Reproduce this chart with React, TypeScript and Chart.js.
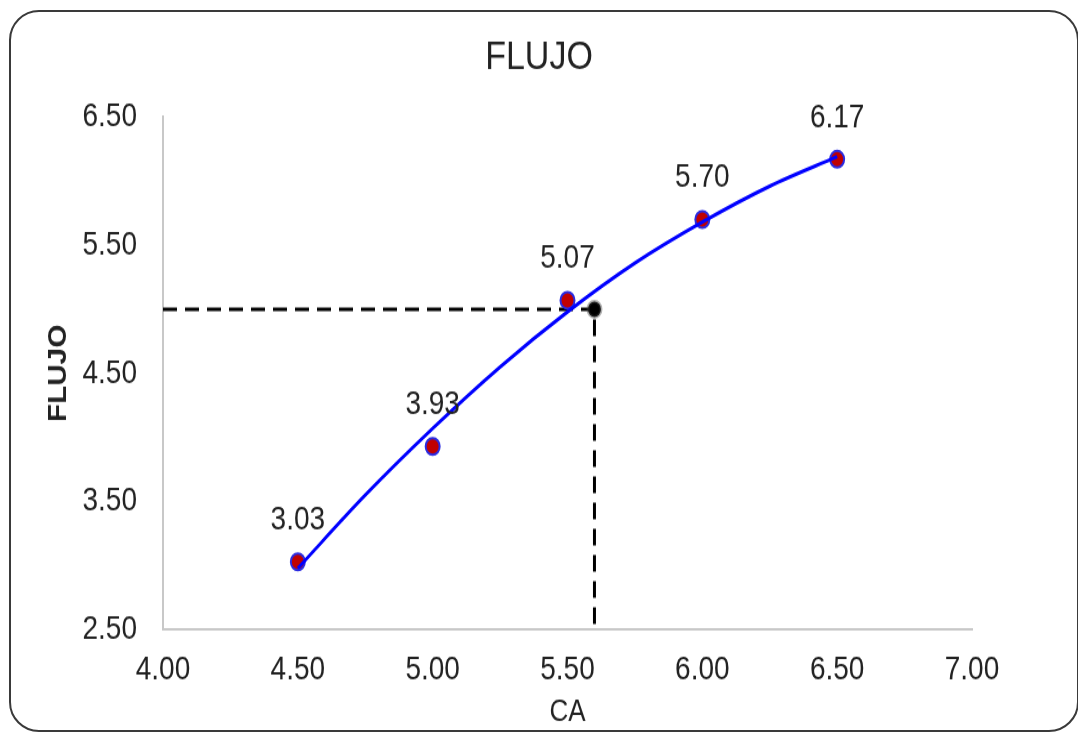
import React, { useEffect, useRef } from "react";
import { Chart, registerables } from "chart.js";

Chart.register(...registerables);

// Measured points
const caValues = [4.5, 5.0, 5.5, 6.0, 6.5];
const flujoValues = [3.03, 3.93, 5.07, 5.7, 6.17];
// Trend line
const trendX = [4.5, 4.75, 5.0, 5.25, 5.5, 5.75, 6.0, 6.25, 6.5];
const trendY = [2.98, 3.55, 4.07, 4.55, 4.98, 5.36, 5.68, 5.96, 6.19];
// Read-off point and guide lines
const readX = [5.6];
const readY = [5.0];
const guideX = [4.0, 5.6, 5.6];
const guideY = [5.0, 5.0, 2.5];

const xTicks = [4.0, 4.5, 5.0, 5.5, 6.0, 6.5, 7.0];
const yTicks = [2.5, 3.5, 4.5, 5.5, 6.5];

const SANS = "'Liberation Sans', Arial, sans-serif";

// the drawing is rendered at this height and shown stretched to 734px
const RENDER_H = 617;

const labelPlugin = {
  id: "pointLabels",
  afterDatasetsDraw(chart: any) {
    const meta = chart.getDatasetMeta(1);
    const ctx = chart.ctx;
    ctx.save();
    ctx.font = `28px ${SANS}`;
    ctx.fillStyle = "#222";
    ctx.textAlign = "center";
    ctx.textBaseline = "middle";
    meta.data.forEach((el: any, i: number) => {
      ctx.fillText(flujoValues[i].toFixed(2), el.x, el.y - 35);
    });
    ctx.restore();
  },
};

export default function App() {
  const ref = useRef<HTMLCanvasElement>(null);
  useEffect(() => {
    if (!ref.current) return;
    const chart = new Chart(ref.current, {
      type: "scatter",
      data: {
        datasets: [
          {
            type: "line",
            data: trendX.map((x, i) => ({ x, y: trendY[i] })),
            borderColor: "#0000ff",
            borderWidth: 3,
            pointRadius: 0,
            tension: 0.4,
            cubicInterpolationMode: "monotone",
            fill: false,
          } as any,
          {
            data: caValues.map((x, i) => ({ x, y: flujoValues[i] })),
            backgroundColor: "#c00000",
            borderColor: "#2a2ae0",
            borderWidth: 2,
            pointRadius: 7,
          },
          {
            data: readX.map((x, i) => ({ x, y: readY[i] })),
            backgroundColor: "#000",
            borderColor: "rgba(60,60,60,0.4)",
            borderWidth: 3,
            pointRadius: 6.5,
          },
          {
            type: "line",
            data: guideX.map((x, i) => ({ x, y: guideY[i] })),
            borderColor: "#000",
            borderWidth: 3,
            borderDash: [14, 8],
            pointRadius: 0,
            tension: 0,
            fill: false,
          } as any,
        ],
      },
      options: {
        animation: false,
        responsive: false,
        devicePixelRatio: 1,
        layout: { padding: 0 },
        plugins: {
          legend: { display: false },
          tooltip: { enabled: false },
          title: {
            display: true,
            text: "FLUJO",
            color: "#222",
            font: { family: SANS, size: 34, weight: "normal" as any },
            padding: { top: 28, bottom: 29.5 },
          },
        },
        scales: {
          x: {
            type: "linear",
            min: 4,
            max: 7,
            afterBuildTicks: (s: any) => {
              s.ticks = xTicks.map((v) => ({ value: v }));
            },
            afterFit: (s: any) => {
              s.height = 87.6;
            },
            grid: { display: false, drawTicks: false },
            border: { display: true, color: "#c8c8c8", width: 2 },
            ticks: {
              color: "#222",
              padding: 17,
              font: { family: SANS, size: 28 },
              callback: (v: any) => Number(v).toFixed(2),
              maxRotation: 0,
            },
            title: {
              display: true,
              text: "CA",
              color: "#222",
              font: { family: SANS, size: 26 },
              padding: { top: 0, bottom: 3 },
            },
          },
          y: {
            type: "linear",
            position: "left",
            min: 2.5,
            max: 6.5,
            afterBuildTicks: (s: any) => {
              s.ticks = yTicks.map((v) => ({ value: v }));
            },
            afterFit: (s: any) => {
              s.width = 163;
            },
            grid: { display: false, drawTicks: false },
            border: { display: true, color: "#c8c8c8", width: 2 },
            ticks: {
              color: "#222",
              padding: 26,
              font: { family: SANS, size: 28 },
              callback: (v: any) => Number(v).toFixed(2),
            },
            title: {
              display: true,
              text: "FLUJO",
              color: "#222",
              font: { family: SANS, size: 25, weight: "bold" as any },
              padding: { top: 44, bottom: 0 },
            },
          },
          yRight: {
            type: "linear",
            position: "right",
            min: 2.5,
            max: 6.5,
            afterFit: (s: any) => {
              s.width = 106;
            },
            grid: { display: false, drawTicks: false },
            border: { display: false },
            ticks: { display: false },
          },
        },
      },
      plugins: [labelPlugin],
    });
    return () => chart.destroy();
  }, []);

  return (
    <div style={{ position: "absolute", left: 0, top: 0, width: 1078, height: 734, background: "#fff" }}>
      <div
        style={{
          position: "absolute",
          left: 9,
          top: 10,
          width: 1070,
          height: 722,
          border: "2px solid #3a3a3a",
          borderRadius: 30,
          boxSizing: "border-box",
        }}
      />
      <canvas
        ref={ref}
        width={1078}
        height={RENDER_H}
        style={{ position: "absolute", left: 0, top: 0, width: 1078, height: 734 }}
      />
    </div>
  );
}
